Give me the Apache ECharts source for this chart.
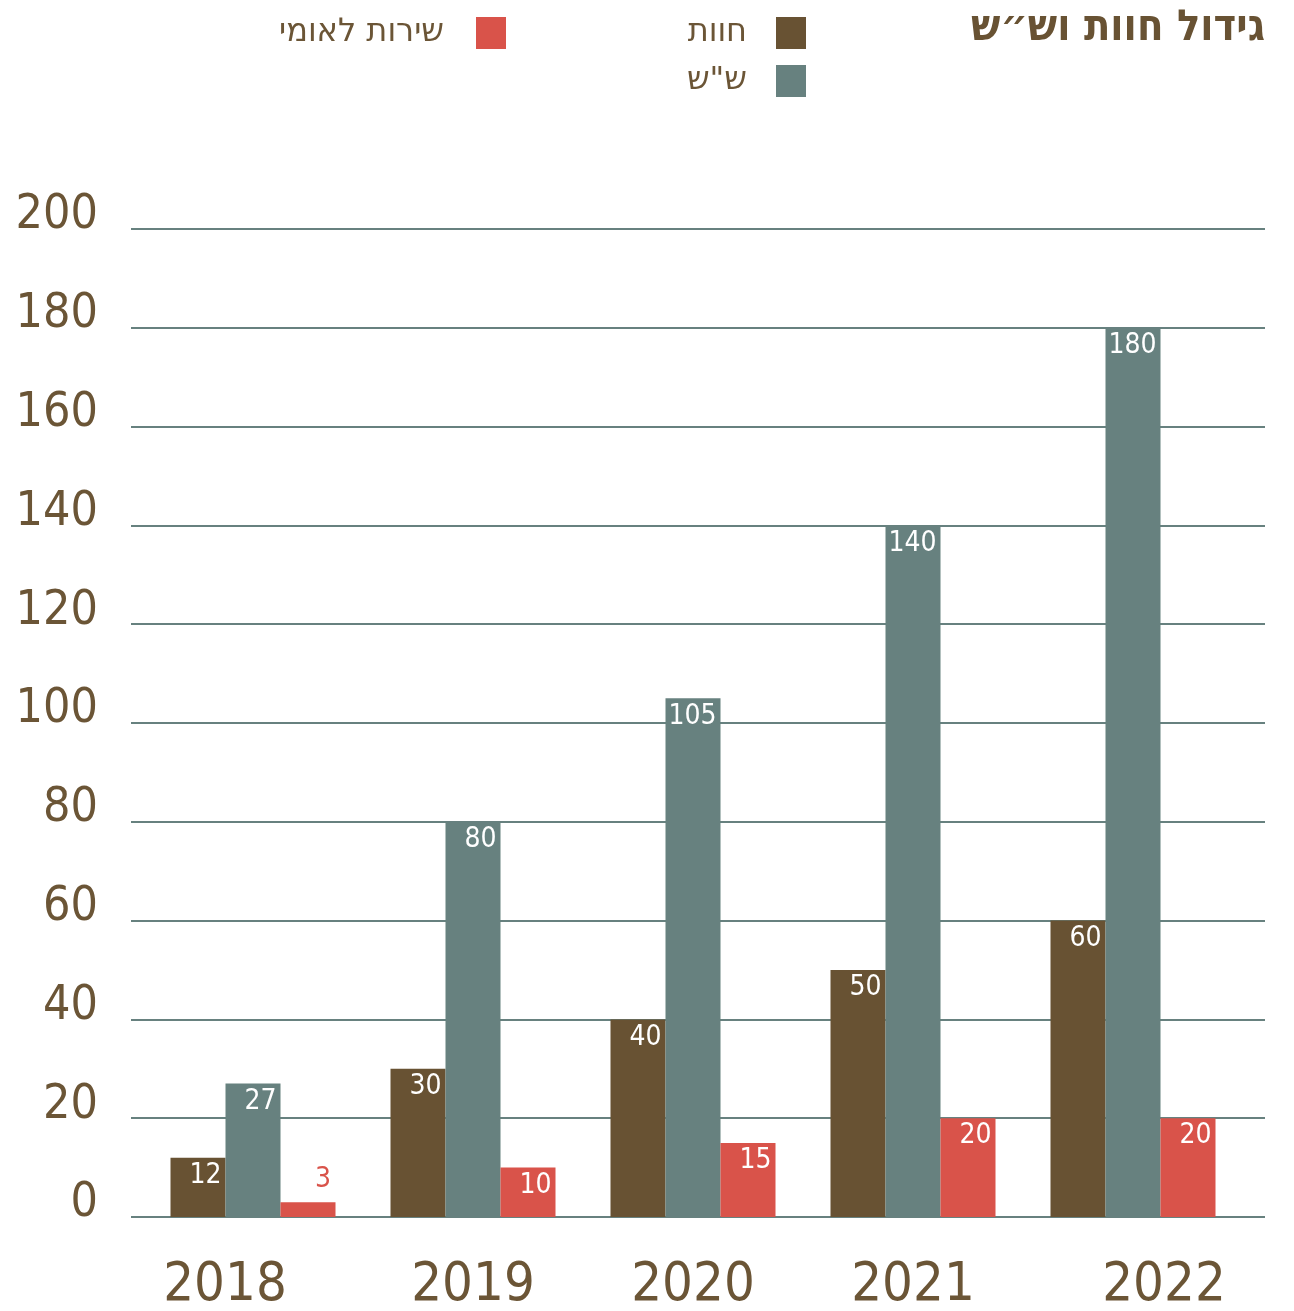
<!DOCTYPE html>
<html><head><meta charset="utf-8">
<script src="https://cdn.jsdelivr.net/npm/echarts@6/dist/echarts.min.js"></script>
<style>html,body{margin:0;padding:0;background:#fff}#c{width:1294px;height:1311px}</style>
</head><body><div id="c"></div>
<script>
const years = ['2018','2019','2020','2021','2022'];
const farms = [12, 30, 40, 50, 60];
const shs = [27, 80, 105, 140, 180];
const national = [3, 10, 15, 20, 20];
const yTicks = [0, 20, 40, 60, 80, 100, 120, 140, 160, 180, 200];

const BROWN = '#685233', TEAL = '#67817f', RED = '#d9534a', TXT = '#6b5536';
const NUM = '"Liberation Sans Narrow","DejaVu Sans Condensed",sans-serif';
const HEB = '"DejaVu Sans Condensed","DejaVu Sans",sans-serif';
const HEB2 = '"DejaVu Sans",sans-serif';

const chart = echarts.init(document.getElementById('c'));
const lbl = {show: true, position: 'insideTopRight', distance: 4, color: '#fff', fontSize: 28, fontFamily: NUM};
const yearStyle = {fontSize: 54, color: TXT, fontFamily: NUM};
const legendText = pr => ({fontSize: 32, color: TXT, fontFamily: HEB2, padding: [0, pr, 0, 0]});
chart.setOption({
  animation: false,
  title: {text: 'גידול חוות וש״ש', right: 29, top: 7, padding: 0,
    textStyle: {fontSize: 43, fontWeight: 'bold', color: BROWN, fontFamily: HEB}},
  legend: [
    {data: ['חוות'], right: 488, top: 17, padding: 0, align: 'right', itemWidth: 30, itemHeight: 32, icon: 'rect',
     textStyle: legendText(24)},
    {data: ['ש"ש'], right: 488, top: 65, padding: 0, align: 'right', itemWidth: 30, itemHeight: 32, icon: 'rect',
     textStyle: legendText(24)},
    {data: ['שירות לאומי'], right: 788, top: 17, padding: 0, align: 'right', itemWidth: 30, itemHeight: 32, icon: 'rect',
     textStyle: legendText(27)}
  ],
  grid: [
    {left: 143, right: 51, top: 229, bottom: 94, outerBoundsMode: 'none', containLabel: false},
    {left: 131, right: 29, top: 229, bottom: 94, outerBoundsMode: 'none', containLabel: false}
  ],
  xAxis: [
    {type: 'category', data: years, gridIndex: 0, axisLine: {show: false}, axisTick: {show: false},
     axisLabel: {margin: 42,
       formatter: (v, i) => i === 0 ? '{a|' + v + '}' : i === years.length - 1 ? '{b|' + v + '}' : '{n|' + v + '}',
       rich: {
         a: Object.assign({padding: [0, 56, 0, 0]}, yearStyle),
         b: Object.assign({padding: [0, 0, 0, 62]}, yearStyle),
         n: yearStyle
       }}},
    {type: 'value', gridIndex: 1, show: false, min: 0, max: 1}
  ],
  yAxis: [
    {type: 'value', gridIndex: 0, min: 0, max: 200, interval: 20, show: false, splitLine: {show: false}},
    {type: 'value', gridIndex: 1, min: 0, max: 200, interval: 20,
     axisLine: {show: false}, axisTick: {show: false},
     splitLine: {show: true, lineStyle: {color: TEAL, width: 2}},
     axisLabel: {fontSize: 48, color: TXT, fontFamily: NUM, margin: 33, verticalAlign: 'bottom', lineHeight: 26,
       formatter: v => yTicks.includes(v) ? String(v) : ''}}
  ],
  series: [
    {name: 'חוות', type: 'bar', xAxisIndex: 0, yAxisIndex: 0, data: farms, barWidth: 55, barGap: '0%',
     itemStyle: {color: BROWN}, label: lbl, z: 3},
    {name: 'ש"ש', type: 'bar', xAxisIndex: 0, yAxisIndex: 0, data: shs, barWidth: 55, barGap: '0%',
     itemStyle: {color: TEAL}, label: lbl, z: 3},
    {name: 'שירות לאומי', type: 'bar', xAxisIndex: 0, yAxisIndex: 0, barWidth: 55, barGap: '0%',
     data: national.map(v => v < 5 ? {value: v, label: {position: 'top', color: RED, offset: [15, -4]}} : v),
     itemStyle: {color: RED}, label: lbl, z: 3}
  ]
});
</script></body></html>
